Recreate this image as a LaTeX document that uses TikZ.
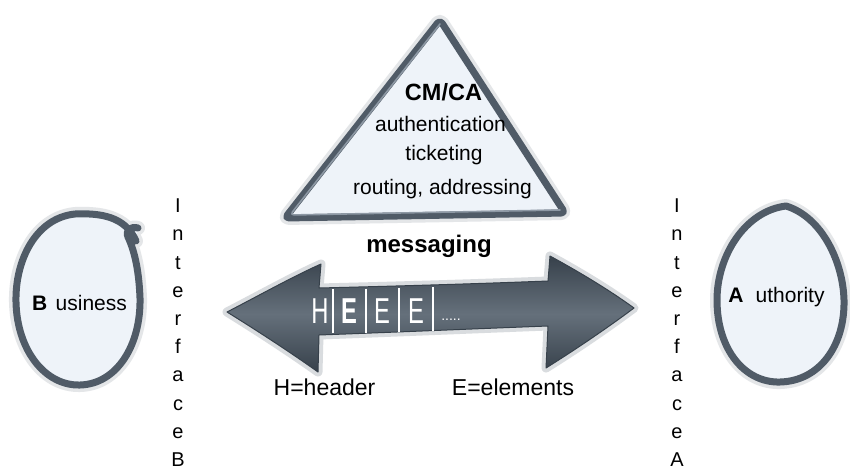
\documentclass[tikz,border=0pt]{standalone}
\usepackage{fontspec}
\setmainfont{Liberation Sans}
\definecolor{ink}{HTML}{505B67}
\definecolor{inklight}{HTML}{8D98A4}
\definecolor{paper}{HTML}{EEF3F9}
\definecolor{halo}{HTML}{D9DCDF}
\definecolor{arrowdark}{HTML}{37414B}
\definecolor{arrowlight}{HTML}{65707B}
\begin{document}
\begin{tikzpicture}[x=1pt,y=-1pt,
  sketch/.style={draw=ink, line width=7pt, fill=paper, line join=round, line cap=round},
  haloline/.style={draw=halo, line width=14pt, line join=round, line cap=round},
  hiline/.style={draw=inklight, line width=1.6pt, line join=round, line cap=round},
  lbl/.style={inner sep=0pt, font=\fontsize{21}{25}\selectfont, anchor=base},
  boldlbl/.style={inner sep=0pt, font=\bfseries\fontsize{23.5}{28}\selectfont, anchor=base},
  vlbl/.style={inner sep=0pt, anchor=north, align=center, font=\fontsize{20}{28.2}\selectfont},
  chalk/.style={inner sep=0pt, text=white, font=\fontsize{36}{36}\selectfont},
  divider/.style={draw=white, line width=1.3pt},
  arrowshape/.style={insert path={
    (227,312) .. controls (258,296) and (292,277) .. (321,264)
    -- (319,288)
    .. controls (400,286) and (470,284) .. (548,281)
    -- (550,256)
    .. controls (583,274) and (612,292) .. (634,308)
    .. controls (610,326) and (578,348) .. (546,368)
    -- (548,326)
    .. controls (470,329) and (400,332) .. (319,335)
    -- (318,372)
    .. controls (290,352) and (256,330) .. (227,312) -- cycle}},
  trishape/.style={insert path={(440,20) -- (285,218) -- (565,213) -- cycle}},
  bshape/.style={insert path={(136,241) .. controls (125,216) and (100,213) .. (75,214)
    .. controls (36,218) and (15,260) .. (16,302)
    .. controls (17,350) and (45,386) .. (80,385)
    .. controls (117,384) and (141,345) .. (140,298)
    .. controls (139,272) and (135,252) .. (128,237)
    .. controls (125,230) and (131,226) .. (138,228)}},
  ashape/.style={insert path={(786,206) .. controls (745,211) and (717,256) .. (717,300)
    .. controls (717,350) and (745,383) .. (780,382)
    .. controls (820,381) and (845,345) .. (844,300)
    .. controls (843,262) and (822,217) .. (786,206) -- cycle}}
]
\useasboundingbox[fill=white] (0,0) rectangle (850,471);

% triangle CM/CA
\path[haloline, draw opacity=0.7, rounded corners=4pt, trishape];
\path[sketch, rounded corners=4pt, trishape];
\path[hiline, rounded corners=4pt] (440,24) -- (290,215) -- (560,210);
\node[boldlbl] (cmca) at (443.5,100) {CM/CA};
\node[lbl] (auth) at (440.5,131.5) {authentication};
\node[lbl] (tick) at (444,160.5) {ticketing};
\node[lbl] (rout) at (442.5,194) {routing, addressing};

% messaging arrow
\node[boldlbl, font=\bfseries\fontsize{24}{28}\selectfont] (msg) at (429,252) {messaging};
\path[draw=halo, line width=9pt, line join=round, arrowshape];
\path[top color=arrowdark, bottom color=arrowdark, middle color=arrowlight, arrowshape];
\path[draw=arrowdark, line width=1pt, line join=round, arrowshape];
\draw[divider] (333,289) -- (333,333);
\draw[divider] (366,288.5) -- (366,332.5);
\draw[divider] (399,288) -- (399,332);
\draw[divider] (433,287) -- (433,331);
\node[chalk] (hh) at (320,311) {\scalebox{0.66}[1]{H}};
\node[chalk] (e1) at (349,311) {\scalebox{0.66}[1]{\bfseries E}};
\node[chalk] (e2) at (382,311) {\scalebox{0.66}[1]{E}};
\node[chalk] (e3) at (416,311) {\scalebox{0.66}[1]{E}};
\node[inner sep=0pt, text=white, font=\fontsize{14}{14}\selectfont, anchor=base] (dots) at (451,320) {.....};

\node[lbl, font=\fontsize{23}{27}\selectfont] (hdr) at (324.5,395) {H=header};
\node[lbl, font=\fontsize{23}{27}\selectfont] (elm) at (513,395) {E=elements};

% Business
\path[haloline, draw opacity=0.7, bshape];
\path[sketch, bshape];
\node[lbl] (biz) at (79.5,310) {\textbf{B}\hspace{8.5pt}usiness};

% Authority
\path[haloline, draw opacity=0.7, ashape];
\path[sketch, ashape];
\node[lbl] (auty) at (776.5,302) {\textbf{A}\hspace{12pt}uthority};

% interfaces
\node[vlbl] (ifb) at (178,198.7) {I\\n\\t\\e\\r\\f\\a\\c\\e\\B};
\node[vlbl] (ifa) at (677,198.7) {I\\n\\t\\e\\r\\f\\a\\c\\e\\A};
\end{tikzpicture}
\end{document}
